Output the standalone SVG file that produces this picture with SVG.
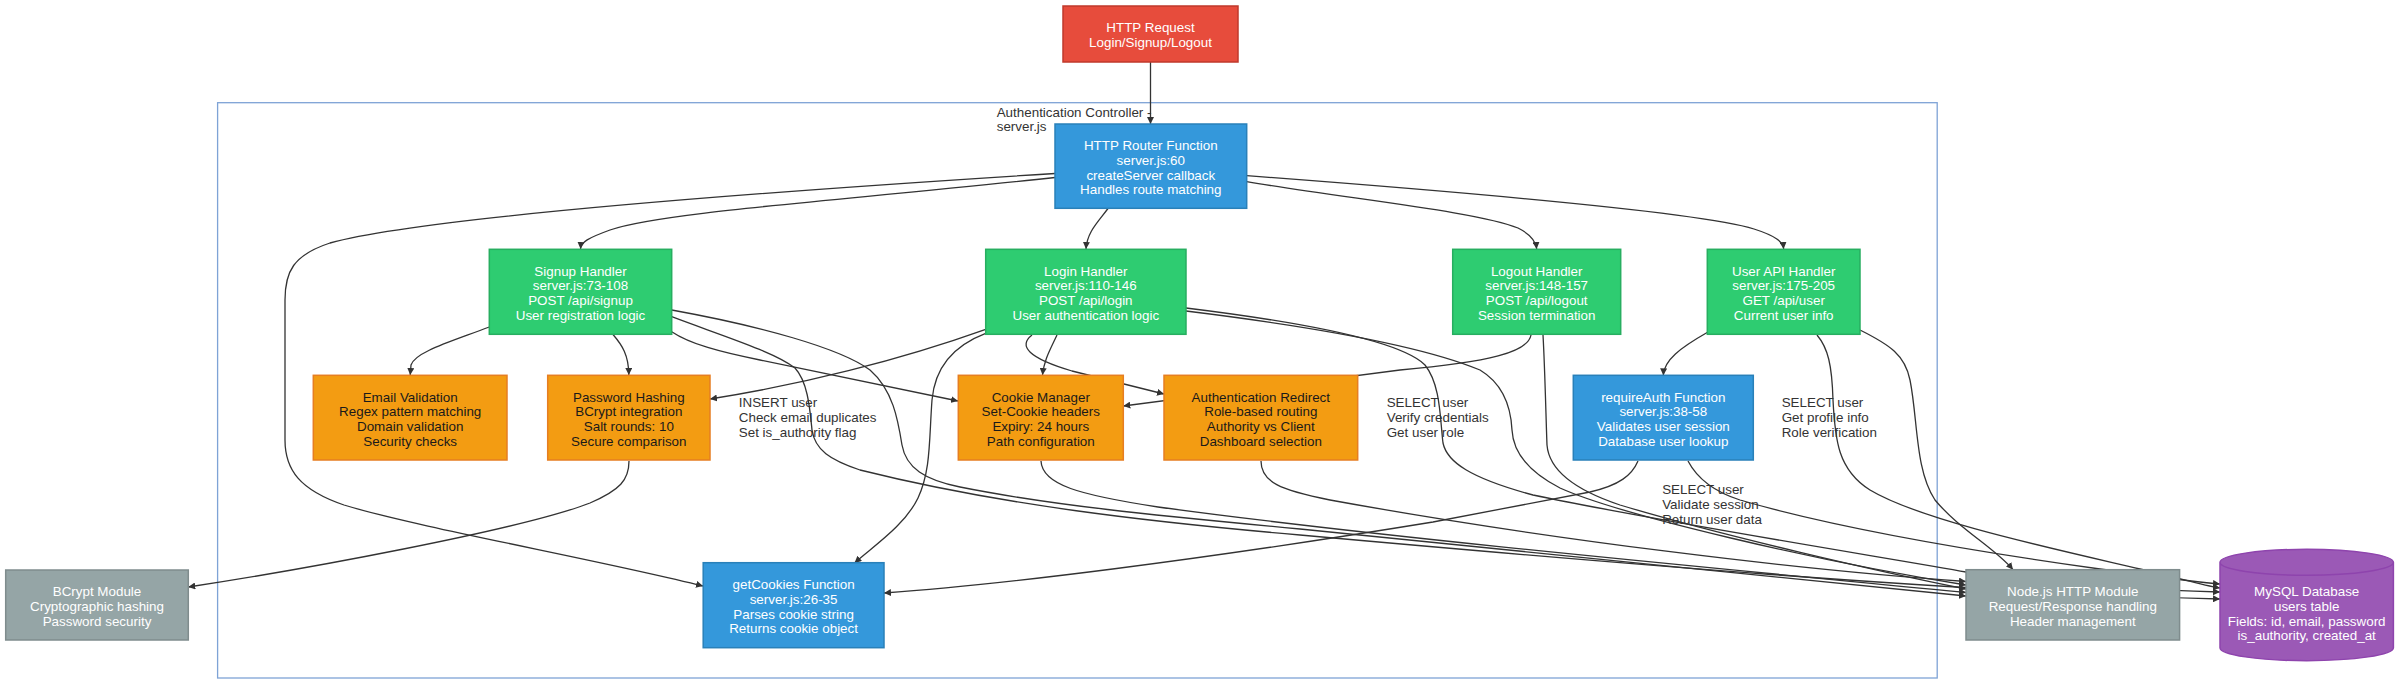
<svg xmlns="http://www.w3.org/2000/svg" width="2400" height="688" viewBox="0 0 2400 688">
<style>
.edge{fill:none;stroke:#333;stroke-width:1.3;marker-end:url(#arr)}
.t{font-family:"Liberation Sans",Arial,sans-serif;font-size:13.4px;text-anchor:middle}
.w{fill:#fff}
.d{fill:#1a1a1a}
.lbl{font-family:"Liberation Sans",Arial,sans-serif;font-size:13.4px;fill:#333;text-anchor:start}
.red{fill:#e74c3c;stroke:#c0392b;stroke-width:1.5}
.green{fill:#2ecc71;stroke:#27ae60;stroke-width:1.5}
.blue{fill:#3498db;stroke:#2980b9;stroke-width:1.5}
.orange{fill:#f39c12;stroke:#e67e22;stroke-width:1.5}
.gray{fill:#95a5a6;stroke:#7f8c8d;stroke-width:1.5}
.purple{fill:#9b59b6;stroke:#8e44ad;stroke-width:1.5}
</style>
<defs>
<marker id="arr" viewBox="0 0 10 10" refX="10" refY="5" markerWidth="7" markerHeight="7" markerUnits="userSpaceOnUse" orient="auto">
<path d="M0,0 L10,5 L0,10 z" fill="#333"/>
</marker>
</defs>
<rect x="0" y="0" width="2400" height="688" fill="#fff"/>

<g id="cluster-auth">
<rect x="217.6" y="102.7" width="1719.6" height="575.3" fill="#fff" stroke="#7ea3d6" stroke-width="1.3"/>
<text class="lbl"><tspan x="996.7" y="117.4">Authentication Controller -</tspan><tspan x="996.7" y="131.4">server.js</tspan></text>
</g>

<g id="connectors">
<path class="edge" d="M1150.5,62 L1150.5,124"/>
<path class="edge" d="M1055,177.5 C850,200 660,212 610,230 C588,238 581,242 580.5,249"/>
<path class="edge" d="M1055,173.5 C760,192 420,218 330,243 C293,255 285,272 285,300 L285,440 C285,470 300,490 344,505 C420,528 600,560 703,586"/>
<path class="edge" d="M1108,208.5 C1098,222 1087,232 1086,249"/>
<path class="edge" d="M1246.7,181.7 C1350,199 1480,212 1518,228 C1532,235 1536,242 1536.7,249"/>
<path class="edge" d="M1246.7,175.7 C1450,191 1700,212 1754,229 C1776,236 1783,242 1783.7,249"/>
<path class="edge" d="M489.3,327 C450,342 415,352 411,365 L410.2,375"/>
<path class="edge" d="M613,334.5 C622,345 628.8,355 628.8,375"/>
<path class="edge" d="M671.7,331.7 C690,344 720,352 760,360 L958,401"/>
<path class="edge" d="M671.7,316.7 C720,335 775,352 795,368 C808,382 810,410 812,430 C815,450 830,460 860,470 C1000,505 1150,522 1300,535 C1600,562 1950,592 2220,599"/>
<path class="edge" d="M671.7,310 C760,326 840,348 870,370 C893,390 898,420 902,445 C906,468 925,480 960,487 C1050,505 1150,515 1300,529 C1600,560 1850,585 1966,596"/>
<path class="edge" d="M985.7,329.3 C900,360 800,385 710,399"/>
<path class="edge" d="M1057,335 C1050,350 1044,360 1042.5,375"/>
<path class="edge" d="M1032,335 C1018,346 1028,358 1072,371 L1164,394"/>
<path class="edge" d="M985.7,333.3 C955,345 935,365 932,400 C929,440 931,470 918,498 C905,525 875,545 854.5,563"/>
<path class="edge" d="M1186,308 C1300,322 1400,340 1425,365 C1441,385 1440,420 1443,443 C1447,462 1470,478 1533,495 C1650,520 1900,560 1966,572 C2050,585 2150,590 2220,592"/>
<path class="edge" d="M1186,311 C1300,325 1420,345 1480,370 C1505,385 1511,410 1512,430 C1513,450 1525,470 1560,488 C1620,515 1820,562 1966,585"/>
<path class="edge" d="M1531,335 C1528,352 1490,362 1400,370 L1123.3,406"/>
<path class="edge" d="M1543,335 C1545,370 1546,420 1547,445 C1549,470 1575,490 1620,505 C1720,535 1880,572 1966,589"/>
<path class="edge" d="M1708,332 C1680,348 1664,360 1663.3,375.3"/>
<path class="edge" d="M1817,335 C1828,348 1832,365 1833,400 C1835,440 1838,470 1870,490 C1920,520 2050,548 2140,569 C2180,578 2200,585 2220,588"/>
<path class="edge" d="M1860,330 C1890,345 1905,355 1910,380 C1918,420 1915,470 1935,500 C1960,530 1995,548 2013,569.7"/>
<path class="edge" d="M1638,461 C1632,475 1620,485 1590,492 L1433,522 C1200,560 1000,585 884,593"/>
<path class="edge" d="M1688,461 C1698,480 1715,492 1740,500 C1850,532 2000,555 2100,569 C2160,577 2195,582 2220,584"/>
<path class="edge" d="M629,461 C629,480 620,490 590,503 C520,530 300,570 188.3,587"/>
<path class="edge" d="M1041,461 C1042,485 1080,495 1158,507 C1400,540 1800,576 1966,592.5"/>
<path class="edge" d="M1261,461 C1261,482 1280,490 1330,500 C1550,540 1800,570 1966,581.5"/>
<text class="lbl"><tspan x="738.8" y="407.4">INSERT user</tspan><tspan x="738.8" y="422.4">Check email duplicates</tspan><tspan x="738.8" y="437">Set is_authority flag</tspan></text>
<text class="lbl"><tspan x="1386.7" y="407">SELECT user</tspan><tspan x="1386.7" y="422">Verify credentials</tspan><tspan x="1386.7" y="437">Get user role</tspan></text>
<text class="lbl"><tspan x="1781.7" y="407">SELECT user</tspan><tspan x="1781.7" y="422">Get profile info</tspan><tspan x="1781.7" y="437">Role verification</tspan></text>
<text class="lbl"><tspan x="1662.2" y="494">SELECT user</tspan><tspan x="1662.2" y="509">Validate session</tspan><tspan x="1662.2" y="524">Return user data</tspan></text>
</g>

<g id="node-request">
<rect class="red" x="1063" y="6" width="175" height="56"/>
<text class="t w"><tspan x="1150.5" y="32">HTTP Request</tspan><tspan x="1150.5" y="47">Login/Signup/Logout</tspan></text>
</g>
<g id="node-router">
<rect class="blue" x="1055" y="124" width="191.7" height="84.3"/>
<text class="t w"><tspan x="1150.8" y="150.4">HTTP Router Function</tspan><tspan x="1150.8" y="165">server.js:60</tspan><tspan x="1150.8" y="179.6">createServer callback</tspan><tspan x="1150.8" y="194.2">Handles route matching</tspan></text>
</g>
<g id="node-signup">
<rect class="green" x="489.3" y="249.3" width="182.4" height="85"/>
<text class="t w"><tspan x="580.5" y="275.8">Signup Handler</tspan><tspan x="580.5" y="290.4">server.js:73-108</tspan><tspan x="580.5" y="305">POST /api/signup</tspan><tspan x="580.5" y="319.6">User registration logic</tspan></text>
</g>
<g id="node-login">
<rect class="green" x="985.7" y="249.3" width="200.3" height="85"/>
<text class="t w"><tspan x="1085.8" y="275.8">Login Handler</tspan><tspan x="1085.8" y="290.4">server.js:110-146</tspan><tspan x="1085.8" y="305">POST /api/login</tspan><tspan x="1085.8" y="319.6">User authentication logic</tspan></text>
</g>
<g id="node-logout">
<rect class="green" x="1452.7" y="249.3" width="168" height="85"/>
<text class="t w"><tspan x="1536.7" y="275.8">Logout Handler</tspan><tspan x="1536.7" y="290.4">server.js:148-157</tspan><tspan x="1536.7" y="305">POST /api/logout</tspan><tspan x="1536.7" y="319.6">Session termination</tspan></text>
</g>
<g id="node-userapi">
<rect class="green" x="1707.3" y="249.3" width="152.7" height="85"/>
<text class="t w"><tspan x="1783.7" y="275.8">User API Handler</tspan><tspan x="1783.7" y="290.4">server.js:175-205</tspan><tspan x="1783.7" y="305">GET /api/user</tspan><tspan x="1783.7" y="319.6">Current user info</tspan></text>
</g>
<g id="node-email">
<rect class="orange" x="313.3" y="375.3" width="193.7" height="84.7"/>
<text class="t d"><tspan x="410.2" y="401.7">Email Validation</tspan><tspan x="410.2" y="416.3">Regex pattern matching</tspan><tspan x="410.2" y="430.9">Domain validation</tspan><tspan x="410.2" y="445.5">Security checks</tspan></text>
</g>
<g id="node-pwhash">
<rect class="orange" x="547.7" y="375.3" width="162.3" height="84.7"/>
<text class="t d"><tspan x="628.8" y="401.7">Password Hashing</tspan><tspan x="628.8" y="416.3">BCrypt integration</tspan><tspan x="628.8" y="430.9">Salt rounds: 10</tspan><tspan x="628.8" y="445.5">Secure comparison</tspan></text>
</g>
<g id="node-cookie">
<rect class="orange" x="958.3" y="375.3" width="165" height="84.7"/>
<text class="t d"><tspan x="1040.8" y="401.7">Cookie Manager</tspan><tspan x="1040.8" y="416.3">Set-Cookie headers</tspan><tspan x="1040.8" y="430.9">Expiry: 24 hours</tspan><tspan x="1040.8" y="445.5">Path configuration</tspan></text>
</g>
<g id="node-authredirect">
<rect class="orange" x="1164" y="375.3" width="193.7" height="84.7"/>
<text class="t d"><tspan x="1260.8" y="401.7">Authentication Redirect</tspan><tspan x="1260.8" y="416.3">Role-based routing</tspan><tspan x="1260.8" y="430.9">Authority vs Client</tspan><tspan x="1260.8" y="445.5">Dashboard selection</tspan></text>
</g>
<g id="node-requireauth">
<rect class="blue" x="1573.3" y="375.3" width="180" height="84.7"/>
<text class="t w"><tspan x="1663.3" y="401.7">requireAuth Function</tspan><tspan x="1663.3" y="416.3">server.js:38-58</tspan><tspan x="1663.3" y="430.9">Validates user session</tspan><tspan x="1663.3" y="445.5">Database user lookup</tspan></text>
</g>
<g id="node-getcookies">
<rect class="blue" x="703.2" y="562.7" width="180.8" height="85"/>
<text class="t w"><tspan x="793.6" y="589.4">getCookies Function</tspan><tspan x="793.6" y="604">server.js:26-35</tspan><tspan x="793.6" y="618.6">Parses cookie string</tspan><tspan x="793.6" y="633.2">Returns cookie object</tspan></text>
</g>
<g id="node-bcrypt">
<rect class="gray" x="5.7" y="570" width="182.6" height="70"/>
<text class="t w"><tspan x="97" y="596.3">BCrypt Module</tspan><tspan x="97" y="610.9">Cryptographic hashing</tspan><tspan x="97" y="625.5">Password security</tspan></text>
</g>
<g id="node-nodehttp">
<rect class="gray" x="1966" y="569.7" width="213.6" height="70.3"/>
<text class="t w"><tspan x="2072.8" y="596.3">Node.js HTTP Module</tspan><tspan x="2072.8" y="610.9">Request/Response handling</tspan><tspan x="2072.8" y="625.5">Header management</tspan></text>
</g>
<g id="node-mysql">
<path class="purple" d="M2220,562.3 a86.7,13 0 0,0 173.4,0 a86.7,13 0 0,0 -173.4,0 l0,85.4 a86.7,13 0 0,0 173.4,0 l0,-85.4"/>
<text class="t w"><tspan x="2306.7" y="596">MySQL Database</tspan><tspan x="2306.7" y="611">users table</tspan><tspan x="2306.7" y="626">Fields: id, email, password</tspan><tspan x="2306.7" y="640.4">is_authority, created_at</tspan></text>
</g>
</svg>
